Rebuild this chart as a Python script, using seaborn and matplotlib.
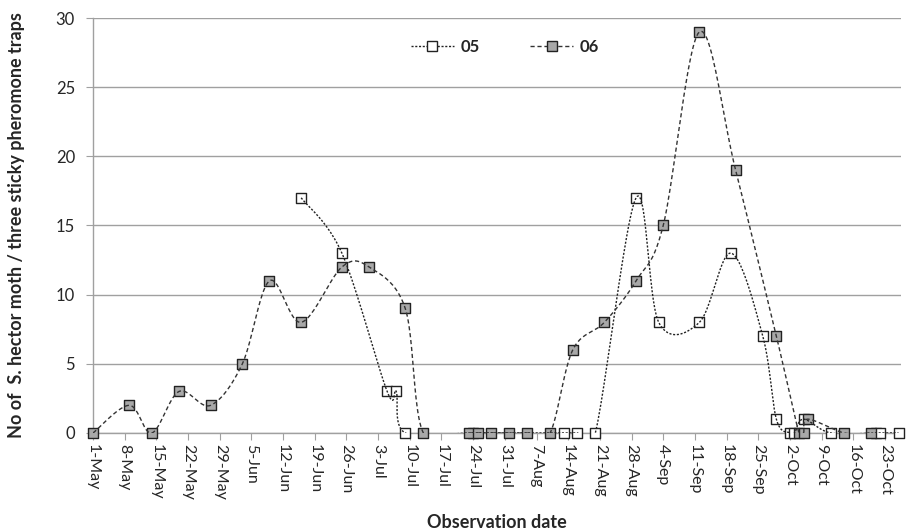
import numpy as np
import pandas as pd
import seaborn as sns
import matplotlib.pyplot as plt
from matplotlib.lines import Line2D

# Data: S. hector moth catches per three sticky pheromone traps
dates_05 = ['16-Jun', '25-Jun', '5-Jul', '7-Jul', '9-Jul', '24-Jul', '13-Aug', '16-Aug',
            '20-Aug', '29-Aug', '3-Sep', '12-Sep', '19-Sep', '26-Sep', '29-Sep', '2-Oct',
            '3-Oct', '5-Oct', '11-Oct', '21-Oct', '22-Oct', '26-Oct']
vals_05 = [17, 13, 3, 3, 0, 0, 0, 0, 0, 17, 8, 8, 13, 7, 1, 0, 0, 1, 0, 0, 0, 0]

dates_06 = ['1-May', '9-May', '14-May', '20-May', '27-May', '3-Jun', '9-Jun', '16-Jun',
            '25-Jun', '1-Jul', '9-Jul', '13-Jul', '23-Jul', '25-Jul', '28-Jul', '1-Aug',
            '5-Aug', '10-Aug', '15-Aug', '22-Aug', '29-Aug', '4-Sep', '12-Sep', '20-Sep',
            '29-Sep', '4-Oct', '5-Oct', '6-Oct', '14-Oct', '20-Oct']
vals_06 = [0, 2, 0, 3, 2, 5, 11, 8, 12, 12, 9, 0, 0, 0, 0, 0, 0, 0, 6, 8, 11, 15, 29, 19,
           7, 0, 0, 1, 0, 0]

start = pd.Timestamp('2013-05-01')


def to_days(labels):
    d = pd.to_datetime([s + '-2013' for s in labels], format='%d-%b-%Y')
    return np.asarray((d - start).days, dtype=float)


def smooth(x, y, n=25):
    # Excel-style smoothed line (Catmull-Rom via cubic Bezier)
    pts = np.column_stack([x, y]).astype(float)
    p = np.vstack([pts[0], pts, pts[-1]])
    out = []
    t = np.linspace(0, 1, n)[:, None]
    for i in range(1, len(p) - 2):
        p0, p1, p2, p3 = p[i - 1], p[i], p[i + 1], p[i + 2]
        c1 = p1 + (p2 - p0) / 6
        c2 = p2 - (p3 - p1) / 6
        seg = (1 - t) ** 3 * p1 + 3 * (1 - t) ** 2 * t * c1 + 3 * (1 - t) * t ** 2 * c2 + t ** 3 * p2
        out.append(seg if i == 1 else seg[1:])
    return np.vstack(out)


sns.set_style('white')
plt.rcParams['font.family'] = ['Lato', 'DejaVu Sans']

fig = plt.figure(figsize=(9.19, 5.31), dpi=100)
ax = fig.add_axes([0.1012, 0.1846, 0.879, 0.7815])

x05, x06 = to_days(dates_05), to_days(dates_06)
s05 = smooth(x05, vals_05)
s06 = smooth(x06, vals_06)

ax.plot(s05[:, 0], s05[:, 1], color='#222222', lw=1.0, ls=(0, (1.5, 1.2)), zorder=4)
ax.plot(s06[:, 0], s06[:, 1], color='#333333', lw=1.0, ls=(0, (3, 2)), zorder=4)

sns.scatterplot(x=x05, y=vals_05, ax=ax, marker='s', s=62, color='white',
                edgecolor='#222222', linewidth=1.0, zorder=3, clip_on=False)
sns.scatterplot(x=x06, y=vals_06, ax=ax, marker='s', s=62, color='#a8a8a8',
                edgecolor='#222222', linewidth=1.0, zorder=3, clip_on=False)

ax.set_xlim(0, 178.5)
ax.set_ylim(0, 30)
ax.set_yticks(range(0, 31, 5))
ticks = np.arange(0, 176, 7)
ax.set_xticks(ticks)
ax.set_xticklabels([f'{(start + pd.Timedelta(days=int(d))).day}-{(start + pd.Timedelta(days=int(d))).strftime("%b")}'
                    for d in ticks], rotation=-90)
ax.tick_params(axis='x', length=5, color='#a0a0a0', labelsize=11.5, pad=3, direction='out', bottom=True)
ax.tick_params(axis='y', length=5, color='#a0a0a0', labelsize=12, pad=8, direction='out', left=True)

ax.yaxis.grid(True, color='#a0a0a0', lw=1)
ax.xaxis.grid(False)
ax.set_axisbelow(True)
for side in ['top', 'right']:
    ax.spines[side].set_visible(False)
for side in ['left', 'bottom']:
    ax.spines[side].set_color('#a0a0a0')
    ax.spines[side].set_linewidth(1)

ax.set_xlabel('Observation date', fontsize=13, fontweight='bold', labelpad=10)
ax.set_ylabel('No of  S. hector moth / three sticky pheromone traps', fontsize=13,
              fontweight='bold', labelpad=22)

handles = [
    Line2D([], [], color='#222222', lw=1.0, ls=(0, (1.5, 1.2)), marker='s', markersize=7,
           markerfacecolor='white', markeredgecolor='#222222'),
    Line2D([], [], color='#333333', lw=1.0, ls=(0, (3, 2)), marker='s', markersize=7,
           markerfacecolor='#a8a8a8', markeredgecolor='#222222'),
]
leg = ax.legend(handles, ['05', '06'], ncol=2, frameon=False, loc='center',
                bbox_to_anchor=(0.51, 0.93), columnspacing=3.0, handlelength=2.6,
                handletextpad=0.4, prop={'weight': 'bold', 'size': 12})

fig.savefig('out.png', dpi=100)
